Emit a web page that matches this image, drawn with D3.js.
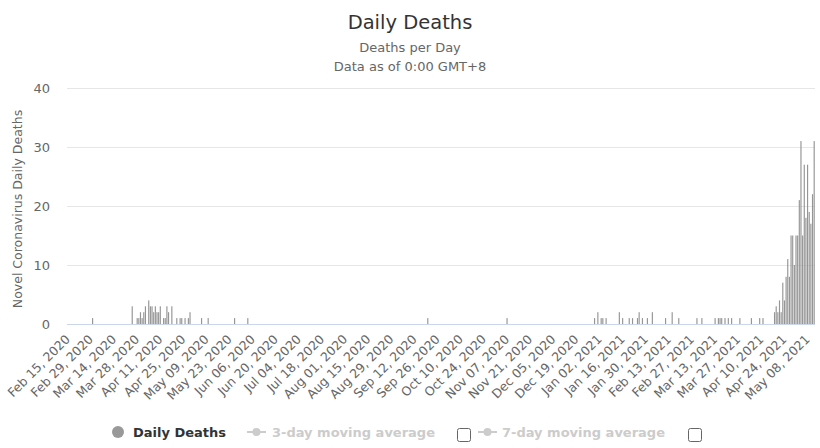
<!DOCTYPE html>
<html>
<head>
<meta charset="utf-8">
<script src="https://cdn.jsdelivr.net/npm/d3@7"></script>
<style>
  body { margin: 0; background: #fff; }
  svg { font-family: "DejaVu Sans", sans-serif; }
</style>
</head>
<body>
<svg id="chart" width="820" height="448"></svg>
<script>
// first and last day on the category axis
const firstDay = '2020-02-15'
const lastDay = '2021-05-12'

// days with at least one death (all other days are 0)
const deathDays = [
  '2020-03-01', '2020-03-25', '2020-03-28', '2020-03-29', '2020-03-30', '2020-03-31',
  '2020-04-01', '2020-04-02', '2020-04-04', '2020-04-05', '2020-04-06', '2020-04-07',
  '2020-04-08', '2020-04-09', '2020-04-10', '2020-04-11', '2020-04-13', '2020-04-14',
  '2020-04-15', '2020-04-16', '2020-04-18', '2020-04-21', '2020-04-23', '2020-04-24',
  '2020-04-26', '2020-04-28', '2020-04-29', '2020-05-06', '2020-05-10', '2020-05-26',
  '2020-06-03', '2020-09-20', '2020-11-07', '2020-12-30',
  '2021-01-01', '2021-01-03', '2021-01-04', '2021-01-06', '2021-01-14', '2021-01-16',
  '2021-01-20', '2021-01-22', '2021-01-25', '2021-01-26', '2021-01-28', '2021-01-31',
  '2021-02-03', '2021-02-11', '2021-02-15', '2021-02-19', '2021-03-02', '2021-03-05',
  '2021-03-13', '2021-03-15', '2021-03-16', '2021-03-17', '2021-03-19', '2021-03-21',
  '2021-03-23', '2021-03-28', '2021-04-04', '2021-04-09', '2021-04-11',
  '2021-04-18', '2021-04-19', '2021-04-20', '2021-04-21', '2021-04-22', '2021-04-23',
  '2021-04-24', '2021-04-25', '2021-04-26', '2021-04-27', '2021-04-28', '2021-04-29',
  '2021-04-30', '2021-05-01', '2021-05-02', '2021-05-03', '2021-05-04', '2021-05-05',
  '2021-05-06', '2021-05-07', '2021-05-08', '2021-05-09', '2021-05-10', '2021-05-11',
  '2021-05-12'
]
const deathCounts = [
  1, 3, 1, 1, 2, 1,
  2, 3, 4, 3, 3, 2,
  3, 2, 2, 3, 1, 1,
  3, 2, 3, 1, 1, 1,
  1, 1, 2, 1, 1, 1,
  1, 1, 1, 1,
  2, 1, 1, 1, 2, 1,
  1, 1, 1, 2, 1, 1,
  2, 1, 2, 1, 1, 1,
  1, 1, 1, 1, 1, 1,
  1, 1, 1, 1, 1,
  2, 3, 2, 4, 2, 7,
  4, 8, 11, 8, 15, 15,
  10, 15, 15, 21, 31, 15,
  27, 18, 27, 19, 17, 22,
  31
]

const yTicks = [0, 10, 20, 30, 40]

const xLabels = [
  'Feb 15, 2020', 'Feb 29, 2020', 'Mar 14, 2020', 'Mar 28, 2020', 'Apr 11, 2020',
  'Apr 25, 2020', 'May 09, 2020', 'May 23, 2020', 'Jun 06, 2020', 'Jun 20, 2020',
  'Jul 04, 2020', 'Jul 18, 2020', 'Aug 01, 2020', 'Aug 15, 2020', 'Aug 29, 2020',
  'Sep 12, 2020', 'Sep 26, 2020', 'Oct 10, 2020', 'Oct 24, 2020', 'Nov 07, 2020',
  'Nov 21, 2020', 'Dec 05, 2020', 'Dec 19, 2020', 'Jan 02, 2021', 'Jan 16, 2021',
  'Jan 30, 2021', 'Feb 13, 2021', 'Feb 27, 2021', 'Mar 13, 2021', 'Mar 27, 2021',
  'Apr 10, 2021', 'Apr 24, 2021', 'May 08, 2021'
]

const legendItems = ['Daily Deaths', '3-day moving average', '7-day moving average']

const svg = d3.select('#chart')
const margin = { top: 88, right: 5, bottom: 124, left: 67 }
const width = 820 - margin.left - margin.right,
      height = 448 - margin.top - margin.bottom

const parseDay = d3.timeParse('%Y-%m-%d')
const parseLabel = d3.timeParse('%b %d, %Y')
const dayKey = d3.timeFormat('%Y-%m-%d')

/* CATEGORY DOMAIN: EVERY DAY IN THE RANGE */
const days = d3.timeDay.range(parseDay(firstDay), d3.timeDay.offset(parseDay(lastDay), 1)).map(dayKey)

const xScale = d3.scaleBand()
  .domain(days)
  .range([0, width])
  .paddingInner(0.3)
  .paddingOuter(0.15)

const yScale = d3.scaleLinear()
  .domain([0, 40])
  .range([height, 0])

/* TITLES */
svg.append('text')
  .attr('x', 410).attr('y', 29)
  .attr('text-anchor', 'middle')
  .attr('fill', '#333')
  .style('font-size', '19.5px')
  .text('Daily Deaths')

svg.append('text')
  .attr('x', 410).attr('y', 52)
  .attr('text-anchor', 'middle')
  .attr('fill', '#666')
  .style('font-size', '13px')
  .text('Deaths per Day')

svg.append('text')
  .attr('x', 410).attr('y', 70.5)
  .attr('text-anchor', 'middle')
  .attr('fill', '#666')
  .style('font-size', '13px')
  .text('Data as of 0:00 GMT+8')

const g = svg.append('g')
  .attr('transform', `translate(${margin.left}, ${margin.top})`)

/* GRID + Y LABELS */
const yAxis = d3.axisLeft(yScale)
  .tickValues(yTicks)
  .tickSize(-width)
  .tickPadding(17)

g.append('g')
  .attr('class', 'axis y')
  .call(yAxis)
  .call(sel => sel.select('.domain').remove())
  .call(sel => sel.selectAll('.tick line').attr('stroke', '#e6e6e6'))
  .call(sel => sel.selectAll('.tick text')
    .attr('fill', '#666')
    .style('font-size', '13px')
    .style('font-family', '"DejaVu Sans", sans-serif'))

svg.append('text')
  .attr('transform', `translate(22, ${margin.top + height / 2 + 3}) rotate(-90)`)
  .attr('text-anchor', 'middle')
  .attr('fill', '#666')
  .style('font-size', '12.5px')
  .text('Novel Coronavirus Daily Deaths')

/* X AXIS LINE */
g.append('line')
  .attr('x1', 0).attr('x2', width)
  .attr('y1', height + 0.5).attr('y2', height + 0.5)
  .attr('stroke', '#ccd6eb')

/* X LABELS (ROTATED) */
g.selectAll('.xlabel')
  .data(xLabels)
  .enter().append('text')
  .attr('class', 'xlabel')
  .attr('transform', d => {
    const x = xScale(dayKey(parseLabel(d))) + xScale.bandwidth() / 2 + 3
    return `translate(${x}, ${height + 16}) rotate(-45)`
  })
  .attr('text-anchor', 'end')
  .attr('fill', '#666')
  .style('font-size', '12.5px')
  .text(d => d)

/* BARS */
const bars = deathDays.map((d, i) => ({ day: d, value: deathCounts[i] }))

g.selectAll('rect.bar')
  .data(bars)
  .enter().append('rect')
  .attr('class', 'bar')
  .attr('x', d => xScale(d.day))
  .attr('y', d => yScale(d.value))
  .attr('width', xScale.bandwidth())
  .attr('height', d => height - yScale(d.value))
  .attr('fill', '#959595')

/* LEGEND */
const legend = svg.append('g').attr('transform', 'translate(0, 432)')

legend.append('circle')
  .attr('cx', 118).attr('cy', 0).attr('r', 6)
  .attr('fill', '#999')
legend.append('text')
  .attr('x', 133).attr('y', 5)
  .attr('fill', '#333')
  .style('font-size', '13px')
  .style('font-weight', 'bold')
  .text(legendItems[0])

const hidden = [
  { sx: 247, tx: 272, bx: 457 },
  { sx: 478, tx: 502, bx: 688 }
]
hidden.forEach((h, i) => {
  legend.append('line')
    .attr('x1', h.sx).attr('x2', h.sx + 19)
    .attr('y1', 0).attr('y2', 0)
    .attr('stroke', '#ccc').attr('stroke-width', 2)
  legend.append('circle')
    .attr('cx', h.sx + 9.5).attr('cy', 0).attr('r', 4)
    .attr('fill', '#ccc')
  legend.append('text')
    .attr('x', h.tx).attr('y', 5)
    .attr('fill', '#ccc')
    .style('font-size', '13px')
    .style('font-weight', 'bold')
    .text(legendItems[i + 1])
  legend.append('rect')
    .attr('x', h.bx + 0.5).attr('y', -3.5)
    .attr('width', 13).attr('height', 13)
    .attr('rx', 2)
    .attr('fill', '#fff')
    .attr('stroke', '#666')
})
</script>
</body>
</html>
